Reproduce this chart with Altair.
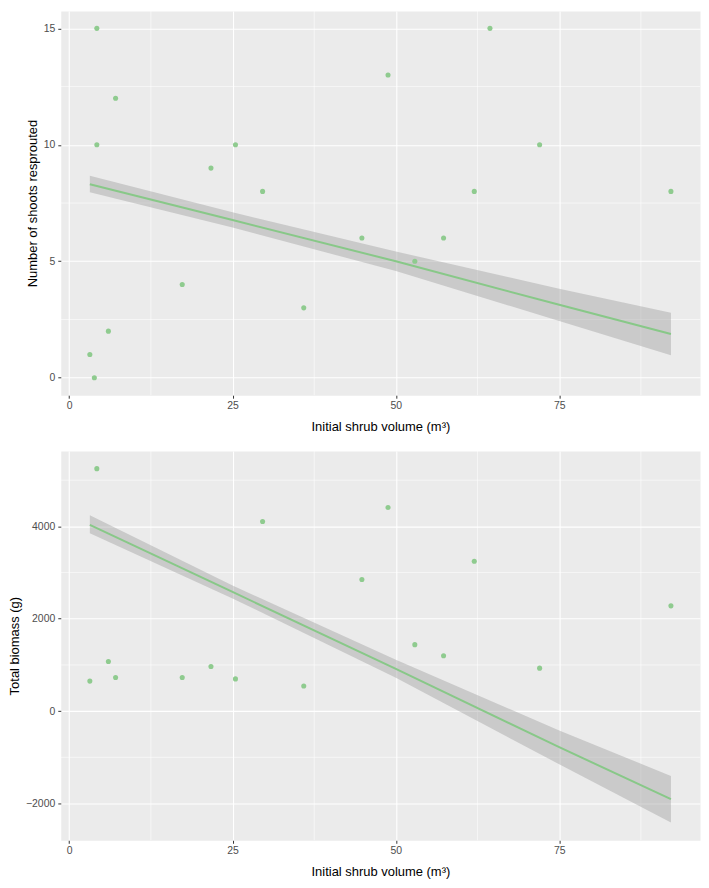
import altair as alt
import pandas as pd

# ---- data ----
volume = [3.16, 3.85, 4.23, 4.23, 6.0, 7.1, 17.3, 21.7, 25.45, 29.6,
          35.9, 44.8, 48.8, 52.9, 57.3, 62.0, 64.4, 72.0, 92.1]
shoots = [1, 0, 15, 10, 2, 12, 4, 9, 10, 8,
          3, 6, 13, 5, 6, 8, 15, 10, 8]

bio_volume = [3.16, 4.23, 6.0, 7.1, 17.3, 21.7, 25.45, 29.6,
              35.9, 44.8, 48.8, 52.9, 57.3, 62.0, 72.0, 92.1]
biomass = [650, 5249, 1073, 728, 728, 967, 698, 4106,
           544, 2851, 4410, 1439, 1200, 3246, 931, 2279]

fit1_x = [3.16, 25, 50, 75, 92.1]
fit1_y = [8.31, 6.77, 5.0, 3.13, 1.88]
fit1_lo = [7.96, 6.45, 4.58, 2.44, 0.97]
fit1_hi = [8.67, 7.10, 5.42, 3.82, 2.79]

fit2_x = [3.16, 25, 50, 75, 92.1]
fit2_y = [4030, 2580, 915, -780, -1905]
fit2_lo = [3852, 2440, 720, -1150, -2413]
fit2_hi = [4241, 2720, 1110, -420, -1403]

x_major = [0, 25, 50, 75]
x_minor = [12.5, 37.5, 62.5, 87.5]
y1_major = [0, 5, 10, 15]
y1_minor = [2.5, 7.5, 12.5]
y2_major = [-2000, 0, 2000, 4000]
y2_minor = [-1000, 1000, 3000, 5000]

x_domain = [-1.29, 96.55]
y1_domain = [-0.75, 15.75]
y2_domain = [-2796, 5632]

x_title = "Initial shrub volume (m³)"
y1_title = "Number of shoots resprouted"
y2_title = "Total biomass (g)"

PT = "#8fcb8f"
LINE = "#88c888"
SANS = "Liberation Sans, Arial, sans-serif"


def panel(px, py, fx, fy, flo, fhi, ydom, ymaj, ymin, ytitle, w, h):
    xs = alt.Scale(domain=x_domain, nice=False, zero=False)
    ys = alt.Scale(domain=ydom, nice=False, zero=False)
    xax = alt.Axis(values=x_major, title=x_title, labelFont=SANS,
                   titleFont=SANS, titleFontSize=13, labelFontSize=10.5,
                   labelPadding=2, titlePadding=10)
    yax = alt.Axis(values=ymaj, title=ytitle, format="d", labelFont=SANS,
                   titleFont=SANS, titleFontSize=13, labelFontSize=10.5,
                   labelPadding=3, titlePadding=4)

    pts = pd.DataFrame({"x": px, "y": py})
    fit = pd.DataFrame({"x": fx, "y": fy, "lo": flo, "hi": fhi})
    xm = pd.DataFrame({"v": x_minor})
    ym = pd.DataFrame({"v": ymin})

    minor_x = alt.Chart(xm).mark_rule(color="white", strokeWidth=0.55).encode(
        x=alt.X("v:Q", scale=xs, axis=xax))
    minor_y = alt.Chart(ym).mark_rule(color="white", strokeWidth=0.55).encode(
        y=alt.Y("v:Q", scale=ys, axis=yax))
    band = alt.Chart(fit).mark_area(color="#999999", opacity=0.4).encode(
        x=alt.X("x:Q", scale=xs, axis=xax),
        y=alt.Y("lo:Q", scale=ys, axis=yax),
        y2="hi:Q")
    line = alt.Chart(fit).mark_line(color=LINE, strokeWidth=2).encode(
        x=alt.X("x:Q", scale=xs, axis=xax),
        y=alt.Y("y:Q", scale=ys, axis=yax))
    dots = alt.Chart(pts).mark_circle(color=PT, opacity=1, size=26).encode(
        x=alt.X("x:Q", scale=xs, axis=xax),
        y=alt.Y("y:Q", scale=ys, axis=yax))
    return alt.layer(minor_x, minor_y, band, line, dots).properties(width=w, height=h)


top = panel(volume, shoots, fit1_x, fit1_y, fit1_lo, fit1_hi,
            y1_domain, y1_major, y1_minor, y1_title, 642, 386)
bottom = panel(bio_volume, biomass, fit2_x, fit2_y, fit2_lo, fit2_hi,
               y2_domain, y2_major, y2_minor, y2_title, 642, 391)

chart = alt.vconcat(top, bottom, spacing=16).properties(
    padding={"left": 0, "top": 0, "right": 0, "bottom": 0}
).configure_view(
    fill="#EBEBEB", strokeOpacity=0
).configure_axis(
    grid=True, gridColor="white", gridWidth=1.1, domain=False,
    tickColor="#333333", tickSize=3, tickWidth=1, labelColor="#4d4d4d",
    titleColor="black", titleFontWeight="normal"
)

chart.save("out.html", embed_options={"renderer": "svg", "actions": False})
